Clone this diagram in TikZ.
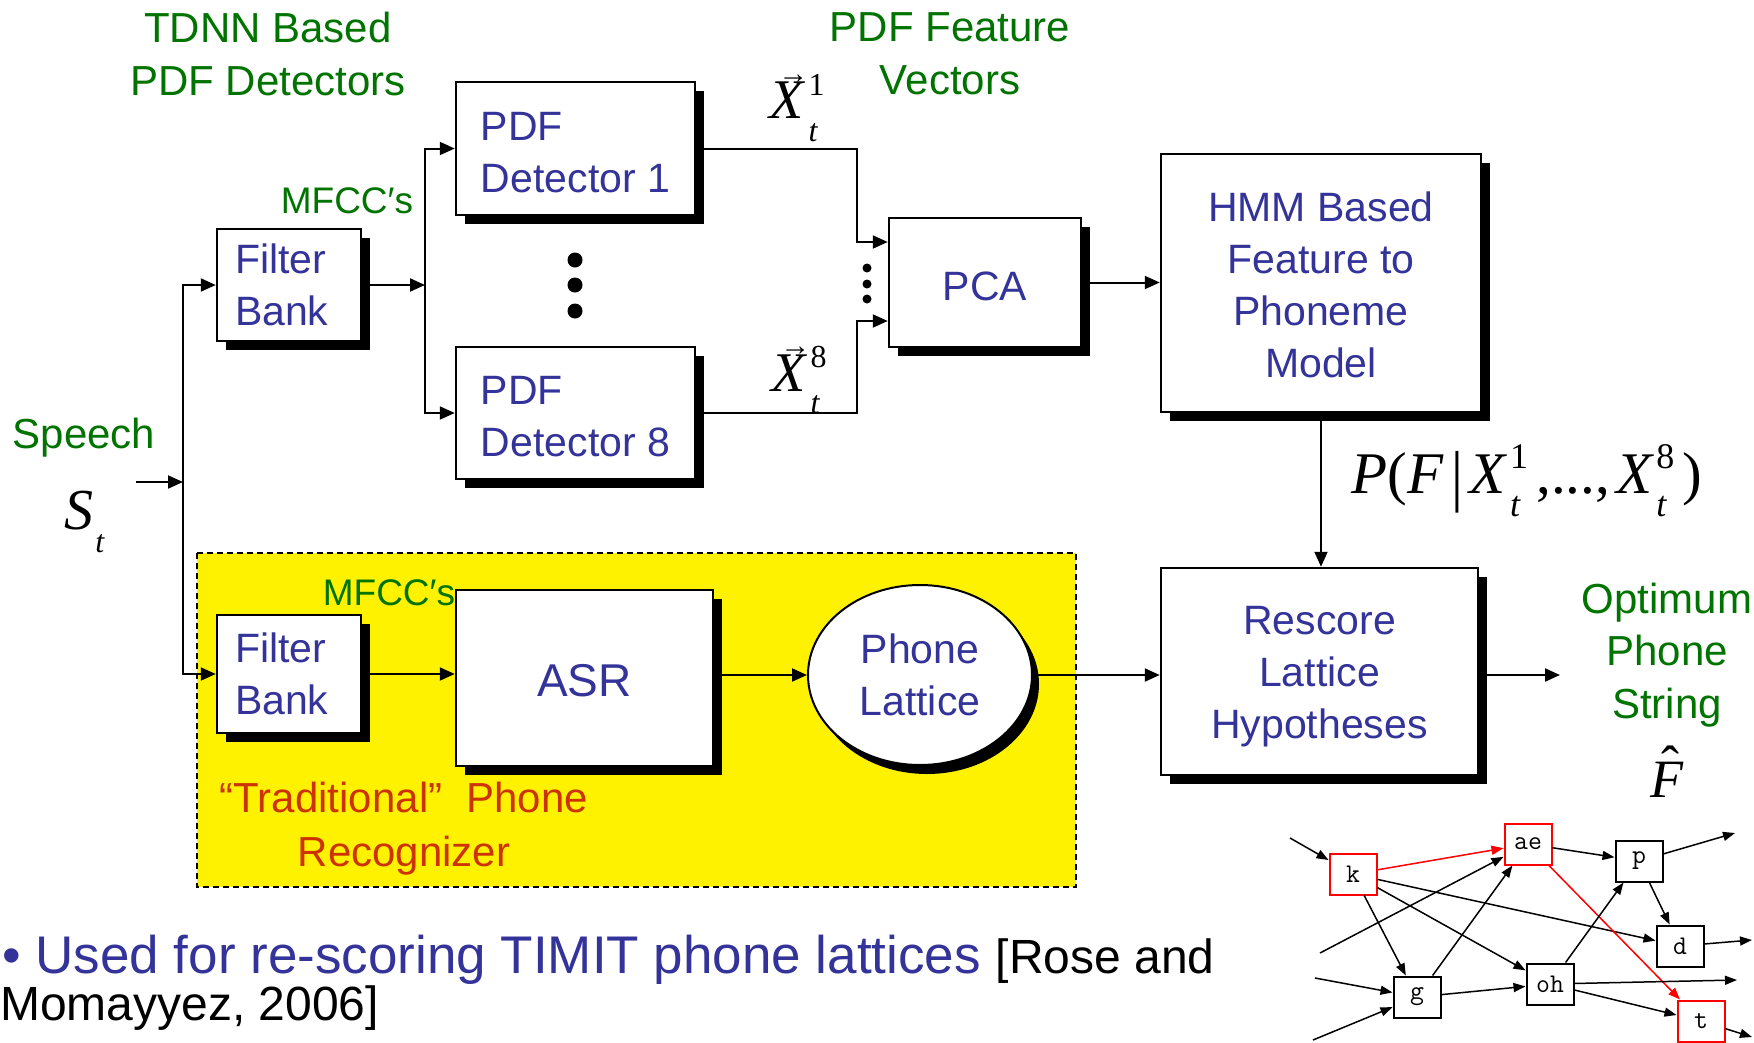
\documentclass[tikz,border=0pt]{standalone}
\usepackage{fontspec}
\setmainfont{Liberation Sans}
\newfontfamily\tms{Liberation Serif}
\usetikzlibrary{arrows.meta,shapes.geometric,shadows}
\definecolor{tgreen}{RGB}{0,115,0}
\definecolor{tblue}{RGB}{51,51,153}
\definecolor{tred}{RGB}{204,51,0}
\definecolor{lred}{RGB}{255,0,0}
\newcommand\fs[2]{\fontsize{#1}{#2}\selectfont}
\newcommand\strt[1]{\rule{0pt}{#1pt}}
% #1 size, #2 superscript, #3 subscript (italic)
\newcommand\scr[3]{\rlap{\raisebox{-0.4em}{\fs{#1}{#1}\textit{#3}}}\raisebox{0.42em}{\fs{#1}{#1}#2}}
\newcommand\vX[1]{\rlap{\hspace{0.16em}\raisebox{0.64em}{\fs{30}{30}→}}\textit{X}\kern0.06em\scr{32}{#1}{t}}
\begin{document}
\begin{tikzpicture}[x=1pt,y=-1pt,
  box/.style={draw, line width=2.5pt, fill=white, inner sep=0pt, text=tblue, font=\fs{41}{52}},
  sh/.style={general shadow={fill=black, shadow xshift=9pt, shadow yshift=-9pt}},
  arr/.style={line width=2pt, -{Triangle[length=15pt,width=13pt]}},
  gtxt/.style={text=tgreen, font=\fs{42}{52.6}, align=center, inner sep=0pt},
  lnode/.style={draw, line width=2pt, fill=white, minimum width=47pt, minimum height=41pt, inner sep=0pt, font=\ttfamily\fs{27}{27}},
  larr/.style={line width=1.5pt, -{Triangle[length=12pt,width=9pt]}},
]
\path[use as bounding box, fill=white] (0,0) rectangle (1754,1042);

% yellow region
\draw[fill=yellow, line width=1.8pt, dash pattern=on 6pt off 4pt] (197,553) rectangle (1076,887);

% boxes
\node[box, sh, minimum width=144pt, minimum height=112pt, text width=108pt, align=left] (fb1) at (289,285) {Filter\\Bank};
\node[box, sh, minimum width=239pt, minimum height=133pt, align=left] (det1) at (575.5,148.5) {\strt{36}PDF\\Detector 1};
\node[box, sh, minimum width=239pt, minimum height=132pt, align=left] (det8) at (575.5,413) {\strt{36}PDF\\Detector 8};
\node[box, sh, minimum width=192pt, minimum height=129pt] (pca) at (985,282.5) {\strt{37}PCA};
\node[box, sh, minimum width=320pt, minimum height=258pt, align=center] (hmm) at (1321,283) {\strt{33}HMM Based\\Feature to\\Phoneme\\Model};
\node[box, sh, minimum width=317pt, minimum height=207pt, align=center] (resc) at (1319.5,671.5) {\strt{38}Rescore\\Lattice\\Hypotheses};
\node[box, sh, minimum width=144pt, minimum height=118pt, text width=108pt, align=left] (fb2) at (289,674) {Filter\\Bank};
\node[box, sh, minimum width=257pt, minimum height=176pt, font=\fs{46}{52}] (asr) at (584.5,678) {\strt{38}ASR};
\node[box, ellipse, line width=2pt, minimum width=224pt, minimum height=180pt, align=center,
      general shadow={fill=black, shadow xshift=7pt, shadow yshift=-9pt}] (ell) at (920,675) {Phone\\Lattice};

% dots
\fill (575,260) circle (7.5pt);
\fill (575,285) circle (7.5pt);
\fill (575,311) circle (7.5pt);
\fill (867,268) circle (4.5pt);
\fill (867,284) circle (4.5pt);
\fill (867,299) circle (4.5pt);

% connectors
\coordinate (sp) at (136,482);
\coordinate (tr) at (183,482);
\draw[arr] (sp) -- (tr);
\draw[arr] (tr) |- (fb1.west);
\draw[arr] (tr) |- (fb2.west);
\coordinate (br) at (425,285);
\draw[arr] (fb1.east) -- (br);
\draw[arr] (br) |- (det1.west);
\draw[arr] (br) |- (det8.west);
\coordinate (m1) at (857,242);
\coordinate (m8) at (857,321);
\draw[arr] (det1.east) -| (m1) -- (m1 -| pca.west);
\draw[arr] (det8.east) -| (m8) -- (m8 -| pca.west);
\draw[arr] (pca.east) -- (pca.east -| hmm.west);
\draw[arr] (hmm.south) -- (hmm.south |- resc.north);
\draw[arr] (fb2.east) -- (fb2.east -| asr.west);
\draw[arr] (asr.east |- ell.west) -- (ell.west);
\draw[arr] (ell.east) -- (ell.east -| resc.west);
\coordinate (outF) at (1560,675);
\draw[arr] (resc.east |- outF) -- (outF);

% texts
\node[gtxt] (tdnn) at (268,54) {TDNN Based\\PDF Detectors};
\node[gtxt] (pdff) at (950,54) {PDF Feature\\Vectors};
\node[gtxt, font=\fs{37}{40}] (mf1) at (347,201) {MFCC′s};
\node[gtxt, font=\fs{37}{40}] (mf2) at (389,593) {MFCC′s};
\node[gtxt] (speech) at (84,438) {Speech};
\node[inner sep=0pt, font=\tms\fs{58}{58}] (st) at (80,522) {\textit{S}\kern0.03em\scr{32}{}{t}};
\node[inner sep=0pt, font=\tms\fs{56}{56}] (x1) at (797,108) {\vX{1}};
\node[inner sep=0pt, font=\tms\fs{56}{56}] (x8) at (799,380) {\vX{8}};
\node[inner sep=0pt, font=\tms\fs{59}{59}] (prob) at (1527,481) {\textit{P}(\textit{F}\kern0.12em\raisebox{-0.08em}{\scalebox{1}[1.15]{|}}\kern0.12em\textit{X}\kern0.04em\scr{36}{1}{t}\kern0.14em,...,\kern0.1em\textit{X}\kern0.04em\scr{36}{8}{t}\kern0.14em)};
\node[gtxt] (opt) at (1667,655) {Optimum\\Phone\\String};
\node[inner sep=0pt, font=\tms\fs{54}{54}] (fhat) at (1667,772) {\rlap{\hspace{0.2em}\raisebox{0.26em}{ˆ}}\textit{F}};
\node[gtxt, text=tred, font=\fs{42}{54}] (trad) at (404,829) {“Traditional”\hspace{0.3em} Phone\\Recognizer};
\node[anchor=base west, inner sep=0pt] (b1) at (2,973) {{\color{tblue}\fs{53}{60}• Used for re-scoring TIMIT phone lattices }\fs{48}{55}[Rose and};
\node[anchor=base west, inner sep=0pt, font=\fs{48}{55}] (b2) at (0,1020) {Momayyez, 2006]};

% lattice
\node[lnode, draw=lred] (lk) at (1353,874) {k};
\node[lnode, draw=lred] (lae) at (1528,844) {ae};
\node[lnode] (lp) at (1639,861) {p};
\node[lnode] (ld) at (1680,946) {d};
\node[lnode] (loh) at (1550,984) {oh};
\node[lnode] (lg) at (1417,997) {g};
\node[lnode, draw=lred] (lt) at (1701,1021) {t};
\coordinate (li1) at (1290,838);
\coordinate (li2) at (1320,953);
\coordinate (li3) at (1315,978);
\coordinate (li4) at (1313,1040);
\coordinate (lo1) at (1735,833);
\coordinate (lo2) at (1752,940);
\coordinate (lo3) at (1737,980);
\coordinate (lo4) at (1752,1037);
\draw[larr] (li1) -- (lk);
\draw[larr] (li2) -- (lae);
\draw[larr] (li3) -- (lg);
\draw[larr] (li4) -- (lg);
\draw[larr, lred] (lk) -- (lae);
\draw[larr] (lk) -- (ld);
\draw[larr] (lk) -- (lg);
\draw[larr] (lk) -- (loh);
\draw[larr] (lg) -- (lae);
\draw[larr] (lg) -- (loh);
\draw[larr] (lae) -- (lp);
\draw[larr, lred] (lae) -- (lt);
\draw[larr] (lp) -- (ld);
\draw[larr] (loh) -- (lp);
\draw[larr] (loh) -- (lt);
\draw[larr] (lp) -- (lo1);
\draw[larr] (ld) -- (lo2);
\draw[larr] (loh) -- (lo3);
\draw[larr] (lt) -- (lo4);
\end{tikzpicture}
\end{document}
